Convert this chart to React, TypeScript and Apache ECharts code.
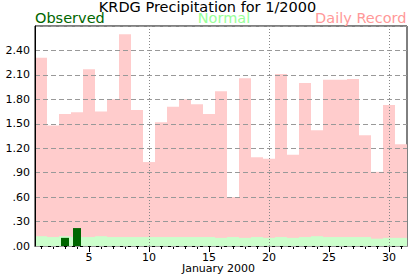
import React, { useEffect, useRef } from "react";
import * as echarts from "echarts";

const days: string[] = Array.from({ length: 31 }, (_, i) => String(i + 1));
const dailyRecord: number[] = [
  2.31, 1.48, 1.62, 1.64, 2.17, 1.65, 1.8, 2.6, 1.67, 1.03,
  1.52, 1.71, 1.8, 1.74, 1.62, 1.9, 0.6, 2.06, 1.09, 1.07,
  2.11, 1.12, 2.0, 1.42, 2.04, 2.04, 2.05, 1.36, 0.91, 1.73, 1.25,
];
const normal: number[] = [
  0.12, 0.11, 0.12, 0.11, 0.11, 0.12, 0.11, 0.11, 0.11, 0.11,
  0.11, 0.11, 0.11, 0.11, 0.11, 0.1, 0.11, 0.1, 0.11, 0.1,
  0.11, 0.1, 0.11, 0.12, 0.11, 0.11, 0.11, 0.11, 0.09, 0.1, 0.1,
];
const observed: (number | null)[] = [
  null, null, 0.1, 0.22, null, null, null, null, null, null,
  null, null, null, null, null, null, null, null, null, null,
  null, null, null, null, null, null, null, null, null, null, null,
];
const gridDays: string[] = ["10", "20", "30"];
const titleText = "KRDG Precipitation for 1/2000";
const xName = "January 2000";

const FONT = "DejaVu Sans";

export default function App() {
  const ref = useRef<HTMLDivElement>(null);
  useEffect(() => {
    if (!ref.current) return;
    document.body.style.margin = "0";
    const chart = echarts.init(ref.current, undefined, { renderer: "svg" });
    const fmt = (v: number) => {
      const s = v.toFixed(2);
      return s.startsWith("0") ? s.slice(1) : s;
    };
    const legendStyle = (text: string, fill: string, align: string) => ({
      text,
      textAlign: align,
      textVerticalAlign: "top",
      font: `14.5px '${FONT}'`,
      lineHeight: 10,
      fill,
    });
    chart.setOption({
      animation: false,
      textStyle: { fontFamily: FONT },
      grid: {
        left: 35,
        right: 10,
        top: 26,
        bottom: 30,
        show: true,
        borderColor: "#000",
        borderWidth: 1,
        backgroundColor: "transparent",
      },
      graphic: [
        {
          type: "text",
          x: 207.5,
          y: 2.25,
          style: {
            text: titleText,
            textAlign: "center",
            textVerticalAlign: "top",
            font: `14.5px '${FONT}'`,
            lineHeight: 10,
            fill: "#000",
          },
        },
        { type: "text", x: 35, y: 12.75, style: legendStyle("Observed", "#006600", "left") },
        { type: "text", x: 224, y: 12.75, style: legendStyle("Normal", "#99ff99", "center") },
        { type: "text", x: 406.5, y: 12.75, style: legendStyle("Daily Record", "#ff9999", "right") },
        {
          type: "text",
          x: 218.5,
          y: 263,
          style: {
            text: xName,
            textAlign: "center",
            textVerticalAlign: "top",
            font: `11px '${FONT}'`,
            lineHeight: 11,
            fill: "#000",
          },
        },
      ],
      xAxis: [
        {
          type: "category",
          data: days,
          boundaryGap: true,
          axisLine: { show: true, lineStyle: { color: "#000", width: 1 } },
          axisTick: {
            show: true,
            alignWithLabel: true,
            interval: 0,
            length: 3,
            lineStyle: { color: "#000" },
          },
          axisLabel: {
            interval: (i: number) => (i + 1) % 5 === 0,
            color: "#000",
            fontSize: 11,
            lineHeight: 10,
            margin: 6,
            fontFamily: FONT,
          },
          splitLine: { show: false },
        },
        {
          type: "category",
          data: days,
          boundaryGap: true,
          position: "bottom",
          axisLine: { show: false },
          axisTick: {
            show: true,
            alignWithLabel: true,
            interval: (i: number) => (i + 1) % 5 === 0,
            length: 6,
            lineStyle: { color: "#000" },
          },
          axisLabel: { show: false },
          splitLine: { show: false },
        },
      ],
      yAxis: {
        type: "value",
        min: 0,
        max: 2.7,
        interval: 0.3,
        z: 4,
        axisLine: { show: true, lineStyle: { color: "#000" } },
        axisTick: { show: false },
        axisLabel: {
          formatter: fmt,
          showMaxLabel: false,
          color: "#000",
          fontSize: 11,
          margin: 5,
          fontFamily: FONT,
        },
        splitLine: {
          show: true,
          lineStyle: { color: "#999", type: [5, 3], width: 1 },
        },
      },
      series: [
        {
          name: "Daily Record",
          type: "bar",
          xAxisIndex: 0,
          data: dailyRecord,
          barCategoryGap: "0%",
          barGap: "-100%",
          itemStyle: { color: "#ffcccc" },
          z: 1,
        },
        {
          name: "Normal",
          type: "bar",
          xAxisIndex: 0,
          data: normal,
          barCategoryGap: "0%",
          barGap: "-100%",
          itemStyle: { color: "#ccffcc" },
          z: 2,
        },
        {
          name: "Observed",
          type: "bar",
          xAxisIndex: 1,
          data: observed,
          barWidth: 8,
          itemStyle: { color: "#006600" },
          z: 3,
          markLine: {
            silent: true,
            symbol: "none",
            label: { show: false },
            lineStyle: { color: "#888", type: [1, 2], width: 1 },
            data: gridDays.map((d) => ({ xAxis: d })),
            z: 5,
          },
        },
      ],
    });
    return () => chart.dispose();
  }, []);
  return <div ref={ref} style={{ width: 417, height: 276 }} />;
}
